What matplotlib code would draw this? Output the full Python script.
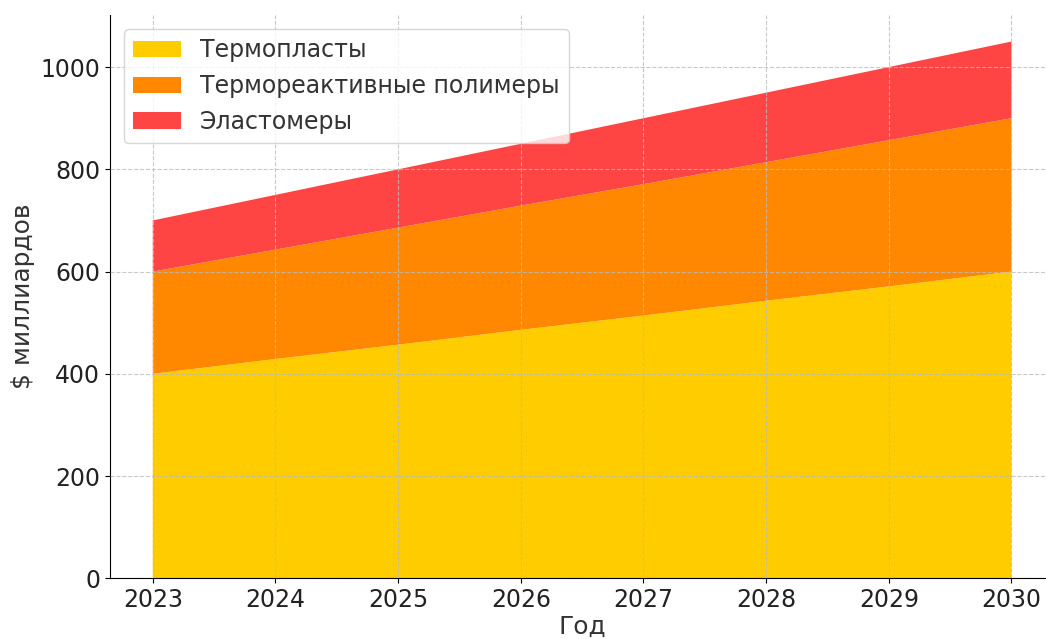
import matplotlib
matplotlib.use('Agg')
import matplotlib.pyplot as plt

years = [2023, 2024, 2025, 2026, 2027, 2028, 2029, 2030]
thermoplastics = [400, 429, 457, 486, 514, 543, 571, 600]
thermosets = [200, 214, 229, 243, 257, 271, 286, 300]
elastomers = [100, 107, 114, 121, 129, 136, 143, 150]

labels = ['Термопласты', 'Термореактивные полимеры', 'Эластомеры']
colors = ['#FFCC00', '#FF8800', '#FF4444']

fig = plt.figure(figsize=(10.46, 6.39), dpi=100)
# ось чуть шире картинки, как в оригинале (правый край обрезан)
ax = fig.add_axes([0.105, 0.095, 0.903, 0.882])

ax.stackplot(years, thermoplastics, thermosets, elastomers,
             labels=labels, colors=colors)

ax.set_xlabel('Год', fontsize=18, color='#333333', labelpad=2)
ax.set_ylabel('$ миллиардов', fontsize=18, color='#333333')
ax.tick_params(axis='both', labelsize=17, labelcolor='#222222')
ax.set_xticks(years)
ax.set_yticks([0, 200, 400, 600, 800, 1000])

ax.grid(True, linestyle='--', color='#bbbbbb', alpha=0.8)
ax.set_axisbelow(False)
ax.spines['top'].set_visible(False)
ax.spines['right'].set_visible(False)

leg = ax.legend(loc='upper left', fontsize=17, handlelength=2.0,
                handletextpad=0.8, borderaxespad=0.6)
for t in leg.get_texts():
    t.set_color('#333333')

fig.savefig('out.png', dpi=100)
